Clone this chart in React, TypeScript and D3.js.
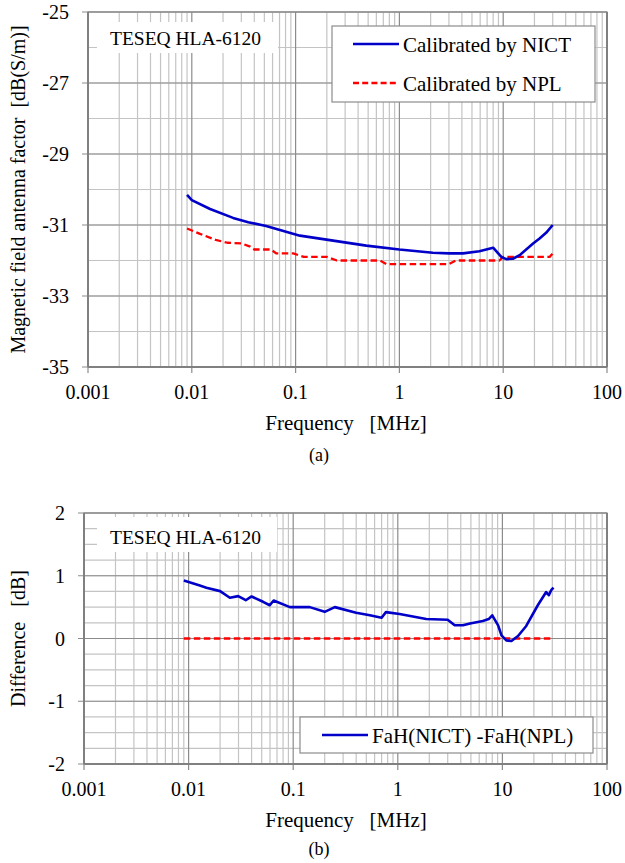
import * as d3 from "d3";

// frequency [MHz] and antenna factor [dB(S/m)]
const nictFreq = [0.009, 0.01, 0.015, 0.025, 0.035, 0.052, 0.11, 0.23, 0.48, 1.0, 2.1, 3.0, 4.1, 5.9, 8.0, 9.6, 10.7, 12.4, 14.4, 19.4, 22.4, 25.9, 30];
const nictAf = [-30.15, -30.3, -30.55, -30.8, -30.92, -31.03, -31.3, -31.44, -31.58, -31.69, -31.78, -31.8, -31.8, -31.74, -31.64, -31.9, -31.96, -31.95, -31.85, -31.52, -31.38, -31.22, -31.0];

const nplFreq = [0.009, 0.012, 0.017, 0.022, 0.03, 0.036, 0.04, 0.058, 0.065, 0.095, 0.12, 0.2, 0.25, 0.65, 0.75, 3.0, 3.5, 9.2, 10, 28, 30];
const nplAf = [-31.1, -31.25, -31.42, -31.5, -31.52, -31.6, -31.69, -31.69, -31.8, -31.8, -31.9, -31.9, -32.0, -32.0, -32.1, -32.1, -32.0, -32.0, -31.9, -31.9, -31.8];

// FaH(NICT) - FaH(NPL) [dB]
const diffFreq = [0.009, 0.0128, 0.0148, 0.02, 0.0248, 0.0298, 0.0352, 0.04, 0.0515, 0.0597, 0.065, 0.093, 0.144, 0.2, 0.25, 0.4, 0.54, 0.7, 0.77, 1.04, 1.87, 3.0, 3.5, 4.2, 4.9, 6.5, 7.4, 8.0, 9.1, 9.8, 10.9, 12.2, 14.1, 16.9, 21.8, 26.2, 27.8, 29.3, 30.8];
const diffVal = [0.925, 0.845, 0.81, 0.755, 0.65, 0.675, 0.61, 0.67, 0.585, 0.53, 0.605, 0.5, 0.5, 0.425, 0.5, 0.41, 0.37, 0.33, 0.42, 0.39, 0.31, 0.3, 0.21, 0.21, 0.24, 0.28, 0.31, 0.37, 0.21, 0.05, -0.03, -0.04, 0.04, 0.2, 0.53, 0.74, 0.69, 0.77, 0.81];

const zeroFreq = [0.009, 30];
const zeroVal = [0, 0];

const xTickLabels = ["0.001", "0.01", "0.1", "1", "10", "100"];
const afTicks = [-25, -27, -29, -31, -33, -35];
const diffTicks = [2, 1, 0, -1, -2];

const FONT = "'Liberation Serif', 'Times New Roman', serif";
const BLUE = "#0000c8";
const RED = "#ff0000";
const DASH = "6.5,3.5";

const zip = (xs, ys) => xs.map((x, i) => [x, ys[i]]);

const Panel = (props) => {
    const { left, right, top, bottom } = props;
    const x = d3.scaleLog().domain([0.001, 100]).range([left, right]);
    const y = d3.scaleLinear().domain(props.yDomain).range([bottom, top]);

    const decades = xTickLabels.map(Number);
    const minors = [];
    for (let k = -3; k <= 1; k++) {
        for (let m = 2; m <= 9; m++) minors.push(m * Math.pow(10, k));
    }
    const yMinor = d3.range(props.yDomain[0], props.yDomain[1] + 1e-9, props.yMinorStep);

    const line = d3.line().x(d => x(d[0])).y(d => y(d[1]));

    return (
        <g fontFamily={FONT} fill="#000">
            {minors.map((m, i) => (
                <line key={"vm" + i} x1={x(m)} x2={x(m)} y1={top} y2={bottom} stroke="#c4c4c4" strokeWidth={1.2} />
            ))}
            {yMinor.map((v, i) => (
                <line key={"hm" + i} x1={left} x2={right} y1={y(v)} y2={y(v)} stroke="#c4c4c4" strokeWidth={1.2} />
            ))}
            {decades.map((d, i) => (
                <line key={"vd" + i} x1={x(d)} x2={x(d)} y1={top} y2={bottom + 6} stroke="#8c8c8c" strokeWidth={1.2} />
            ))}
            {props.yTicks.map((v, i) => (
                <line key={"hd" + i} x1={left - 6} x2={right} y1={y(v)} y2={y(v)} stroke="#8c8c8c" strokeWidth={1.2} />
            ))}
            <rect x={left} y={top} width={right - left} height={bottom - top} fill="none" stroke="#8c8c8c" strokeWidth={1.2} />
            <line x1={left} x2={left} y1={top} y2={bottom} stroke="#808080" strokeWidth={2} />
            <line x1={left} x2={right} y1={bottom} y2={bottom} stroke="#808080" strokeWidth={2} />
            <line x1={right} x2={right} y1={top} y2={bottom} stroke="#808080" strokeWidth={2} />

            {/* model label */}
            <rect x={props.tag.x} y={props.tag.y} width={props.tag.w} height={props.tag.h} fill="#fff" />
            <text x={props.tag.tx} y={props.tag.ty} fontSize={19.5}>TESEQ HLA-6120</text>

            {props.series.map((s, i) => (
                <path key={"s" + i} d={line(s.data)} fill="none" stroke={s.color} strokeWidth={s.width}
                    strokeDasharray={s.dash} strokeLinejoin="round" />
            ))}

            {/* legend */}
            <rect x={props.legend.x} y={props.legend.y} width={props.legend.w} height={props.legend.h}
                fill="#fff" stroke="#8c8c8c" strokeWidth={1.2} />
            {props.legend.items.map((it, i) => (
                <g key={"l" + i}>
                    <line x1={it.x1} x2={it.x2} y1={it.y} y2={it.y} stroke={it.color} strokeWidth={it.width} strokeDasharray={it.dash} />
                    <text x={it.x2 + 4} y={it.y + 8} fontSize={21}>{it.label}</text>
                </g>
            ))}

            {/* ticks */}
            {xTickLabels.map((t, i) => (
                <text key={"xt" + i} x={x(Number(t))} y={bottom + 32} fontSize={20} textAnchor="middle">{t}</text>
            ))}
            {props.yTicks.map((v, i) => (
                <text key={"yt" + i} x={left - 19} y={y(v) + 7} fontSize={20} textAnchor="end">{String(v)}</text>
            ))}

            <text x={346} y={bottom + 63} fontSize={21} textAnchor="middle" style={{ whiteSpace: "pre" }}>Frequency   [MHz]</text>
            <text transform={`translate(25, ${(top + bottom) / 2}) rotate(-90)`} fontSize={20} textAnchor="middle"
                style={{ whiteSpace: "pre" }}>{props.yLabel}</text>
            <text x={319} y={props.captionY} fontSize={18} textAnchor="middle">{props.caption}</text>
        </g>
    );
};

const App = () => {
    return (
        <svg width={625} height={863} style={{ position: "absolute", left: 0, top: 0, background: "#fff" }}>
            <rect width={625} height={863} fill="#fff" />
            <Panel
                left={88} right={607} top={12} bottom={367}
                yDomain={[-35, -25]} yMinorStep={1} yTicks={afTicks}
                yLabel="Magnetic field antenna factor  [dB(S/m)]"
                caption="(a)" captionY={461}
                tag={{ x: 97, y: 22, w: 181, h: 31, tx: 110, ty: 45 }}
                series={[
                    { data: zip(nplFreq, nplAf), color: RED, width: 2.3, dash: DASH },
                    { data: zip(nictFreq, nictAf), color: BLUE, width: 2.6 },
                ]}
                legend={{
                    x: 332, y: 26, w: 263, h: 76,
                    items: [
                        { label: "Calibrated by NICT", color: BLUE, width: 2.6, x1: 353, x2: 399, y: 44 },
                        { label: "Calibrated by NPL", color: RED, width: 2.3, dash: "6,3.2", x1: 353, x2: 399, y: 83 },
                    ],
                }}
            />
            <Panel
                left={84} right={607} top={513} bottom={764}
                yDomain={[-2, 2]} yMinorStep={0.25} yTicks={diffTicks}
                yLabel="Difference   [dB]"
                caption="(b)" captionY={855}
                tag={{ x: 97, y: 517, w: 180, h: 35, tx: 110, ty: 544 }}
                series={[
                    { data: zip(zeroFreq, zeroVal), color: RED, width: 2.3, dash: DASH },
                    { data: zip(diffFreq, diffVal), color: BLUE, width: 2.6 },
                ]}
                legend={{
                    x: 300, y: 717, w: 293, h: 36,
                    items: [
                        { label: "FaH(NICT) -FaH(NPL)", color: BLUE, width: 2.6, x1: 322, x2: 368, y: 735 },
                    ],
                }}
            />
        </svg>
    );
};

export default App;
